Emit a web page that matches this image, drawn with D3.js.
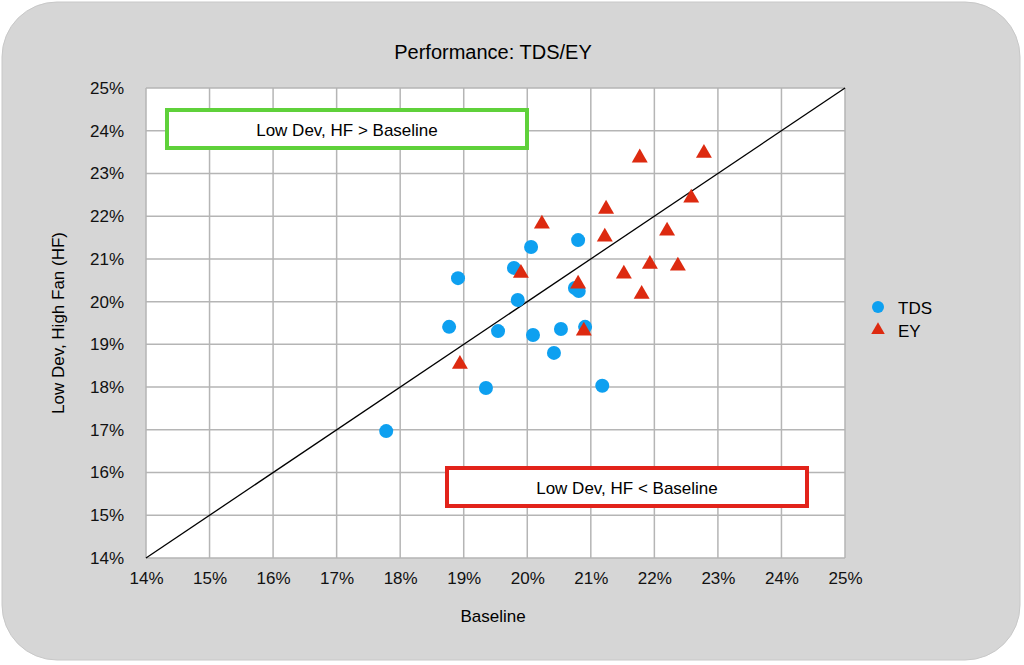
<!DOCTYPE html>
<html>
<head>
<meta charset="utf-8">
<script src="https://d3js.org/d3.v7.min.js"></script>
<style>
  body { margin: 0; background: #fff; }
  text { font-family: "Helvetica Neue", "Liberation Sans", Arial, sans-serif; }
</style>
</head>
<body>
<script>
const tdsX = [17.78, 18.91, 18.77, 19.35, 19.54, 19.79, 19.85, 20.06, 20.09, 20.42, 20.53, 20.75, 20.81, 20.80, 20.91, 21.18];
const tdsY = [16.97, 20.55, 19.41, 17.98, 19.31, 20.79, 20.04, 21.28, 19.22, 18.80, 19.36, 20.32, 20.25, 21.44, 19.41, 18.03];
const eyX = [18.94, 19.90, 20.23, 20.80, 20.89, 21.22, 21.24, 21.52, 21.77, 21.80, 21.93, 22.20, 22.37, 22.58, 22.78];
const eyY = [18.56, 20.69, 21.84, 20.44, 19.34, 21.54, 22.19, 20.67, 23.39, 20.20, 20.90, 21.68, 20.86, 22.45, 23.50];
const ticks = d3.range(14, 26);

const W = 1024, H = 665;
const svg = d3.select('body').append('svg').attr('width', W).attr('height', H);

svg.append('rect')
  .attr('x', 2).attr('y', 2).attr('width', 1018).attr('height', 658)
  .attr('rx', 55).attr('ry', 55)
  .attr('fill', '#d6d6d6').attr('stroke', '#c8c8c8');

const x = d3.scaleLinear().domain([14, 25]).range([146, 845]);
const y = d3.scaleLinear().domain([14, 25]).range([558, 88]);

svg.append('rect')
  .attr('x', x(14)).attr('y', y(25))
  .attr('width', x(25) - x(14)).attr('height', y(14) - y(25))
  .attr('fill', '#fff');

// grid
svg.append('g').selectAll('line').data(ticks).join('line')
  .attr('x1', (d) => x(d)).attr('x2', (d) => x(d))
  .attr('y1', y(14)).attr('y2', y(25))
  .attr('stroke', '#b5b5b5').attr('stroke-width', 1.5);
svg.append('g').selectAll('line').data(ticks).join('line')
  .attr('y1', (d) => y(d)).attr('y2', (d) => y(d))
  .attr('x1', x(14)).attr('x2', x(25))
  .attr('stroke', '#b5b5b5').attr('stroke-width', 1.5);

// axes
const xAxis = d3.axisBottom(x).tickValues(ticks).tickFormat((d) => d + '%').tickSize(0).tickPadding(14);
const gx = svg.append('g').attr('transform', `translate(0,${y(14)})`).call(xAxis);
const yAxis = d3.axisLeft(y).tickValues(ticks).tickFormat((d) => d + '%').tickSize(0).tickPadding(22);
const gy = svg.append('g').attr('transform', `translate(${x(14)},0)`).call(yAxis);
[gx, gy].forEach((g) => {
  g.select('.domain').remove();
  g.selectAll('text').attr('font-size', 17).attr('fill', '#111')
    .style('font-family', '"Helvetica Neue", "Liberation Sans", Arial, sans-serif');
});

// diagonal
svg.append('line')
  .attr('x1', x(14)).attr('y1', y(14)).attr('x2', x(25)).attr('y2', y(25))
  .attr('stroke', '#000').attr('stroke-width', 1.3);

// annotation boxes
svg.append('rect').attr('x', 167).attr('y', 110).attr('width', 360).attr('height', 38)
  .attr('fill', '#fff').attr('stroke', '#5fd13a').attr('stroke-width', 4);
svg.append('text').attr('x', 347).attr('y', 136).attr('text-anchor', 'middle')
  .attr('font-size', 17).text('Low Dev, HF > Baseline');
svg.append('rect').attr('x', 447).attr('y', 468).attr('width', 360).attr('height', 38)
  .attr('fill', '#fff').attr('stroke', '#e2231a').attr('stroke-width', 4);
svg.append('text').attr('x', 627).attr('y', 494).attr('text-anchor', 'middle')
  .attr('font-size', 17).text('Low Dev, HF < Baseline');

// points
const tri = d3.symbol().type(d3.symbolTriangle).size(110);
svg.append('g').selectAll('circle').data(tdsX).join('circle')
  .attr('cx', (d) => x(d)).attr('cy', (d, i) => y(tdsY[i])).attr('r', 7)
  .attr('fill', '#0ea0f0');
svg.append('g').selectAll('path').data(eyX).join('path')
  .attr('d', tri)
  .attr('transform', (d, i) => `translate(${x(d)},${y(eyY[i]) + 1})`)
  .attr('fill', '#dd2a10');

// titles
svg.append('text').attr('x', 493).attr('y', 59).attr('text-anchor', 'middle')
  .attr('font-size', 20).text('Performance: TDS/EY');
svg.append('text').attr('x', 493).attr('y', 622).attr('text-anchor', 'middle')
  .attr('font-size', 17).text('Baseline');
svg.append('text').attr('transform', 'translate(64,323) rotate(-90)').attr('text-anchor', 'middle')
  .attr('font-size', 17).text('Low Dev, High Fan (HF)');

// legend
svg.append('circle').attr('cx', 878).attr('cy', 307).attr('r', 6).attr('fill', '#0ea0f0');
svg.append('text').attr('x', 898).attr('y', 314).attr('font-size', 17).text('TDS');
svg.append('path').attr('d', d3.symbol().type(d3.symbolTriangle).size(80))
  .attr('transform', 'translate(878,330)').attr('fill', '#dd2a10');
svg.append('text').attr('x', 898).attr('y', 337).attr('font-size', 17).text('EY');
</script>
</body>
</html>
